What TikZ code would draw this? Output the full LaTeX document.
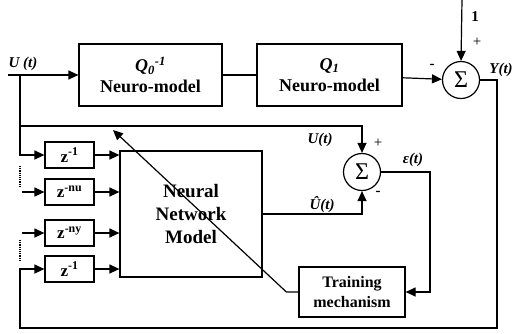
\documentclass[tikz,border=0pt]{standalone}
\usepackage{fontspec}
\setmainfont{Liberation Serif}
\usetikzlibrary{arrows.meta}
\begin{document}
\begin{tikzpicture}[x=1pt, y=-1pt, line width=1.2pt, >={Triangle[length=10pt,width=9pt]},
	block/.style={draw, align=center, font=\bfseries\fontsize{18}{21}\selectfont},
	delay/.style={draw, minimum width=49pt, minimum height=26pt, font=\bfseries\fontsize{17}{19}\selectfont},
	sumnode/.style={draw, circle, minimum size=37pt, inner sep=0pt, font=\fontsize{24}{24}\selectfont},
	lbl/.style={font=\bfseries\itshape\fontsize{15}{17}\selectfont}]
	\useasboundingbox (0,0) rectangle (513,333);
	\node[block, minimum width=143pt, minimum height=62pt] (q0) at (150.5,75) {\textit{Q}\textsubscript{\textit{0}}\textsuperscript{\textit{-1}}\\Neuro-model};
	\node[block, minimum width=145pt, minimum height=62pt] (q1) at (329.5,75) {\textit{Q}\textsubscript{\textit{1}}\\Neuro-model};
	\node[sumnode] (s1) at (461,80) {Σ};
	\node[sumnode] (s2) at (362,172) {Σ};
	\node[block, minimum width=142pt, minimum height=126pt, font=\bfseries\fontsize{19}{23}\selectfont] (nn) at (191,214) {Neural\\Network\\Model};
	\node[block, minimum width=106pt, minimum height=50pt, font=\bfseries\fontsize{16}{20}\selectfont] (train) at (352,292) {Training\\mechanism};
	\node[delay] (d1) at (69.5,155) {z\textsuperscript{-1}};
	\node[delay] (dnu) at (69.5,192) {z\textsuperscript{-nu}};
	\node[delay] (dny) at (69.5,233) {z\textsuperscript{-ny}};
	\node[delay] (d1b) at (69.5,269) {z\textsuperscript{-1}};
	% points on the wires
	\coordinate (in) at (8,75);
	\coordinate (uj) at (20,75);
	\coordinate (ub) at (20,126);
	\coordinate (one) at (462,0);
	\coordinate (yr) at (497,328);
	\coordinate (yl) at (20,328);
	\coordinate (eps) at (430,292);
	\coordinate (tip) at (113,130);
	\coordinate (nu) at (22,192);
	\coordinate (ny) at (22,233);
	% forward path
	\draw[->] (in) -- (q0);
	\draw (q0) -- (q1);
	\draw[->] (q1) -- (s1);
	\draw[->] (one) -- (s1.north);
	\draw[->] (s1.east) -| (yr) -- (yl) |- (d1b.west);
	% U(t) to the delays and the error sum
	\draw (uj) -- (ub);
	\draw[->] (ub) -| (s2.north);
	\draw[->] (ub) |- (d1.west);
	\draw[->] (nu) -- (dnu);
	\draw[->] (ny) -- (dny);
	\draw[densely dotted] (20,166) -- (20,186);
	\draw[densely dotted] (20,240) -- (20,260);
	\foreach \d in {d1, dnu, dny, d1b}
		\draw[->] (\d) -- (\d -| nn.west);
	\draw[->] (nn.east) -| (s2.south);
	\draw[->] (s2.east) -| (eps) -- (train.east);
	\draw[->] (train.west) -- ++(-12,0) -- (tip);
	% labels
	\node[lbl] at (23,64) {U (t)};
	\node[font=\bfseries\fontsize{15}{17}\selectfont] at (475,17) {1};
	\node[font=\fontsize{15}{17}\selectfont] at (477,42) {+};
	\node[font=\bfseries\fontsize{15}{17}\selectfont] at (432,66) {-};
	\node[lbl] at (501,70) {Y(t)};
	\node[lbl] at (320,140) {U(t)};
	\node[font=\fontsize{15}{17}\selectfont] at (378,143) {+};
	\node[lbl] at (413,160) {ε(t)};
	\node[lbl] at (322,205) {Û(t)};
	\node[font=\bfseries\fontsize{15}{17}\selectfont] at (378,193) {-};
\end{tikzpicture}
\end{document}
